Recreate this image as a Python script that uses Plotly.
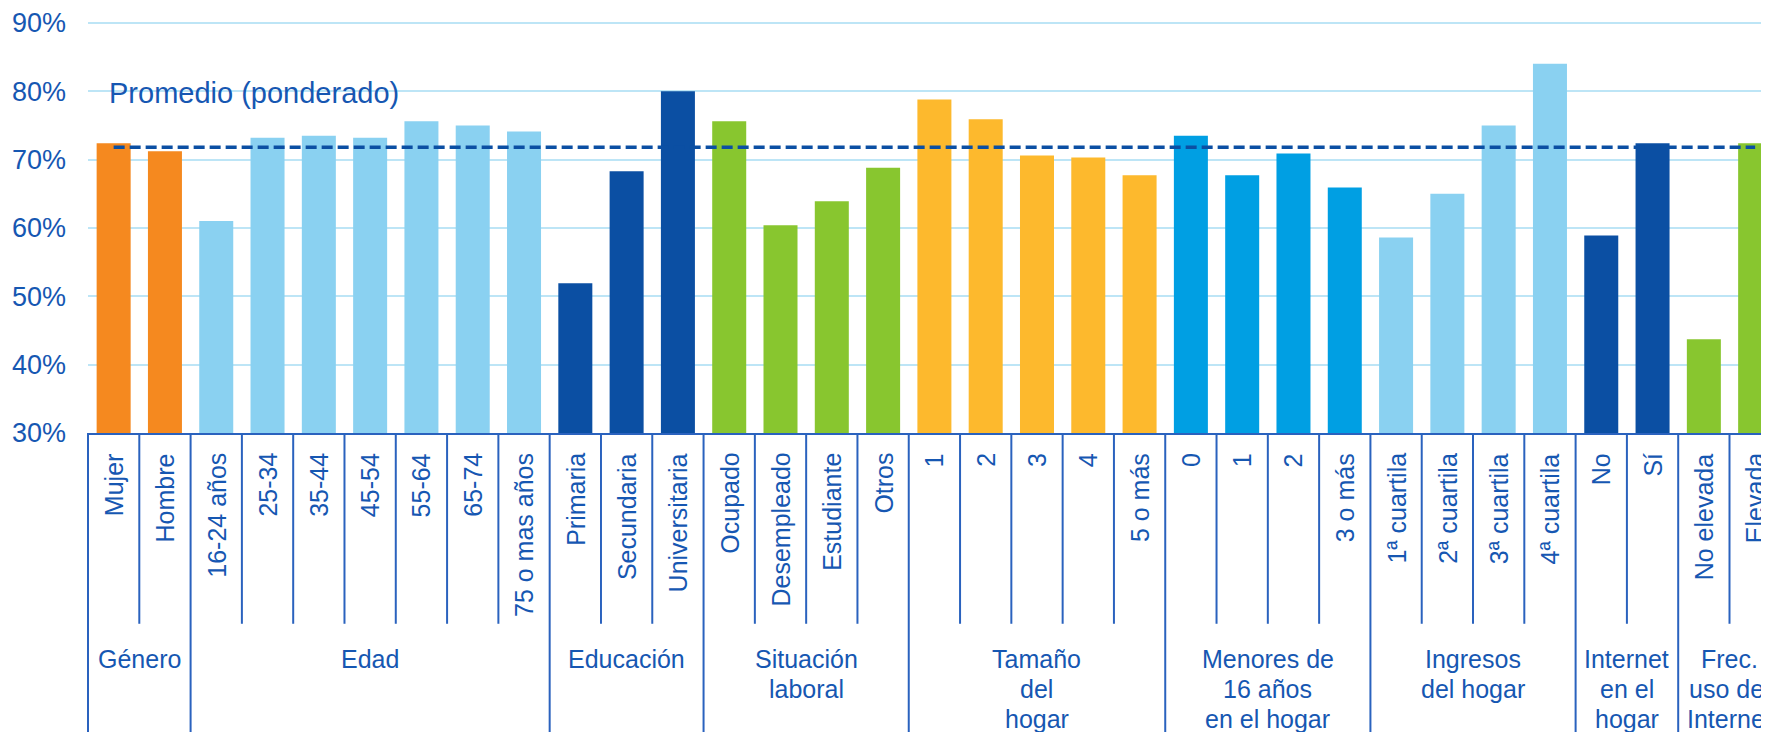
import plotly.graph_objects as go

# ---------------- data ----------------
categories = ["Mujer", "Hombre",
              "16-24 años", "25-34", "35-44", "45-54", "55-64", "65-74", "75 o mas años",
              "Primaria", "Secundaria", "Universitaria",
              "Ocupado", "Desempleado", "Estudiante", "Otros",
              "1", "2", "3", "4", "5 o más",
              "0", "1", "2", "3 o más",
              "1ª cuartila", "2ª cuartila", "3ª cuartila", "4ª cuartila",
              "No", "Sí",
              "No elevada", "Elevada"]
values = [72.4, 71.2,
          61.0, 73.2, 73.5, 73.2, 75.6, 75.0, 74.1,
          51.9, 68.3, 80.0,
          75.6, 60.4, 63.9, 68.8,
          78.8, 75.9, 70.6, 70.3, 67.7,
          73.5, 67.7, 70.9, 65.9,
          58.6, 65.0, 75.0, 84.0,
          58.9, 72.4,
          43.7, 72.4]
group_labels = ["Género", "Edad", "Educación", "Situación<br>laboral", "Tamaño<br>del<br>hogar",
                "Menores de<br>16 años<br>en el hogar", "Ingresos<br>del hogar",
                "Internet<br>en el<br>hogar", "Frec.<br>uso del<br>Internet"]
group_sizes = [2, 7, 3, 4, 5, 4, 4, 2, 2]
group_colors = ["#F5891F", "#8AD1F1", "#0B4FA3", "#88C62F", "#FDB92D",
                "#009FE3", "#8AD1F1", "#0B4FA3", "#88C62F"]
average_value = 71.8
average_label = "Promedio (ponderado)"
y_ticks = [30, 40, 50, 60, 70, 80, 90]
y_tick_text = ["30%", "40%", "50%", "60%", "70%", "80%", "90%"]

# ---------------- styles ----------------
TEXT = "#1657B2"
LINE = "#2A62BE"
FONT = "Arial, Liberation Sans, sans-serif"

x_idx = list(range(len(categories)))
bar_colors = []
for c, n in zip(group_colors, group_sizes):
    bar_colors += [c] * n

fig = go.Figure()
fig.add_trace(go.Bar(x=x_idx, y=values, marker=dict(color=bar_colors, line=dict(width=0)),
                     hoverinfo="skip", showlegend=False))
fig.add_trace(go.Scatter(x=[x_idx[0], x_idx[-1]], y=[average_value, average_value], mode="lines",
                         line=dict(color="#0B4FA3", width=3.5, dash="11px,5px"),
                         hoverinfo="skip", showlegend=False))

annotations = []
shapes = []
# plot area height in px, used to express px offsets below the axis
PLOT_H = 724 - 7.5 - 299
def below(px):
    return -px / PLOT_H

# category labels
for i, lab in enumerate(categories):
    annotations.append(dict(x=i, y=0, xref="x", yref="paper", text=lab, textangle=-90,
                            showarrow=False, xanchor="center", yanchor="top", yshift=-18,
                            font=dict(size=25, color=TEXT, family=FONT)))
# group labels (one annotation per line, 30px line pitch) and separators
group_bounds = set()
start = 0
for lab, n in zip(group_labels, group_sizes):
    for j, line in enumerate(lab.split("<br>")):
        annotations.append(dict(x=start + (n - 1) / 2, y=0, xref="x", yref="paper", text=line,
                                showarrow=False, xanchor="center", yanchor="top",
                                yshift=-210 - 30 * j,
                                font=dict(size=25, color=TEXT, family=FONT)))
    start += n
    group_bounds.add(start)
for k in range(1, len(categories)):
    bottom = below(320) if k in group_bounds else below(191)
    shapes.append(dict(type="line", xref="x", yref="paper", x0=k - 0.5, x1=k - 0.5,
                       y0=0, y1=bottom, line=dict(color=LINE, width=2)))
shapes.append(dict(type="line", xref="x domain", yref="paper", x0=0, x1=0, y0=0, y1=below(320),
                   line=dict(color=LINE, width=2)))

annotations.append(dict(x=-0.12, y=79.7, xref="x", yref="y", text=average_label, showarrow=False,
                        xanchor="left", yanchor="middle",
                        font=dict(size=29, color=TEXT, family=FONT)))

fig.update_layout(
    width=1761, height=724,
    margin=dict(l=80, r=0, t=7.5, b=299, autoexpand=False),
    paper_bgcolor="white", plot_bgcolor="white",
    bargap=0.337,
    annotations=annotations, shapes=shapes,
    xaxis=dict(range=[-0.5, 32.27], showticklabels=False, showgrid=False, zeroline=False,
               showline=True, linecolor=LINE, linewidth=2, ticks="", automargin=False),
    yaxis=dict(range=[30, 91], tickmode="array", tickvals=y_ticks, ticktext=y_tick_text,
               showgrid=True, gridcolor="#BDE5F6", gridwidth=2, zeroline=False, showline=False,
               ticklabelstandoff=21, automargin=False, ticklabeloverflow="allow",
               tickfont=dict(size=27, color=TEXT, family=FONT)),
)

fig.write_html("out.html")
